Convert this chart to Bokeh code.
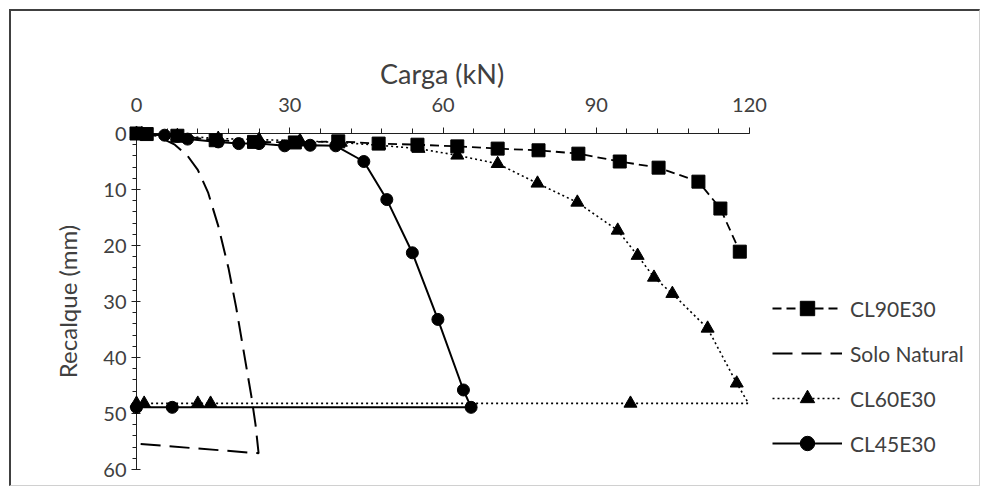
from bokeh.plotting import figure
from bokeh.models import Range1d, FixedTicker, Legend, LegendItem
from bokeh.embed import file_html
from bokeh.resources import INLINE

# ---- data ----
x_ticks = [0, 30, 60, 90, 120]
y_ticks = [0, 10, 20, 30, 40, 50, 60]

cl90_carga = [0, 2, 8, 15.5, 23, 31, 39.5, 47.4, 55, 62.8, 70.7, 78.7, 86.5, 94.6, 102.2, 110, 114.3, 118.1]
cl90_recalque = [0, 0.1, 0.4, 1.2, 1.5, 1.6, 1.4, 1.8, 2.0, 2.3, 2.7, 3.0, 3.6, 5.0, 6.1, 8.6, 13.4, 21.1]

solo_carga = [0, 4, 7.5, 10, 12, 14, 16, 18, 19.5, 21, 22.5, 23.3, 23.9, 0]
solo_recalque = [0, 0.4, 2.0, 4.0, 6.5, 10.5, 16.5, 24, 31, 39, 47, 52, 57.1, 55.4]

cl60_carga = [0, 1, 8, 16, 24, 32, 40, 47.5, 55.2, 62.8, 70.7, 78.5, 86.3, 94.2, 98.1, 101.3, 104.9,
              111.8, 117.5, 119.8, 96.7, 14.5, 12, 1.5, 0]
cl60_recalque = [0, 0.1, 0.4, 0.9, 1.1, 1.3, 1.6, 2.1, 2.7, 3.9, 5.4, 8.9, 12.3, 17.3, 21.8, 25.7, 28.6,
                 34.8, 44.6, 48.2, 48.2, 48.2, 48.2, 48.2, 48.2]
cl60_no_marker = [19]

cl45_carga = [0, 5.5, 8, 10, 16, 20, 24, 29, 34, 39, 44.5, 49, 54, 59, 64, 65.5, 7, 0]
cl45_recalque = [0, 0.3, 0.5, 1.0, 1.5, 1.8, 1.8, 2.2, 2.1, 2.2, 5.0, 11.8, 21.3, 33.2, 45.8, 48.9, 48.9, 48.9]

x_title = "Carga (kN)"
y_title = "Recalque (mm)"

FONT = "Lato"
TXT = "#404040"

# layout: the x axis (0..120) takes AXIS_PX pixels of a wider frame that also hosts the legend
AXIS_PX = 613
FRAME_W = 839
FRAME_H = 336
X_MAX = 120
x_end = X_MAX * FRAME_W / AXIS_PX

p = figure(frame_width=FRAME_W, frame_height=FRAME_H, output_backend="svg", toolbar_location=None,
           x_range=Range1d(0, x_end), y_range=Range1d(60, 0),
           x_axis_location="above", min_border_left=125, min_border_right=4,
           min_border_top=122, min_border_bottom=16)
p.margin = (9, 0, 0, 9)
p.styles = {"border-left": "2px solid #404040", "border-top": "2px solid #404040",
            "border-right": "1px solid #d0d0d0", "border-bottom": "1px solid #d0d0d0"}
p.outline_line_color = None
p.xgrid.visible = False
p.ygrid.visible = False
p.background_fill_color = "white"
p.border_fill_color = "white"

# x-axis title centred over the 0..120 part of the frame
p.title.text = x_title
p.title.text_font = FONT
p.title.text_font_style = "normal"
p.title.text_font_size = "27px"
p.title.text_color = TXT
p.title.align = "left"
p.title.offset = AXIS_PX / 2 - 63
p.title.standoff = 9

xa = p.xaxis[0]
xa.bounds = (0, X_MAX)
xa.ticker = FixedTicker(ticks=x_ticks, minor_ticks=list(range(0, 121, 6)))
xa.major_label_text_font = FONT
xa.major_label_text_font_size = "20px"
xa.major_label_text_color = TXT
xa.major_label_standoff = 16
xa.major_tick_out = 6
xa.major_tick_in = 0
xa.minor_tick_out = 5
xa.minor_tick_in = 0
xa.axis_line_color = "#202020"
xa.major_tick_line_color = "#202020"
xa.minor_tick_line_color = "#202020"

ya = p.yaxis[0]
ya.ticker = FixedTicker(ticks=y_ticks, minor_ticks=list(range(0, 61, 2)))
ya.axis_label = y_title
ya.axis_label_text_font = FONT
ya.axis_label_text_font_style = "normal"
ya.axis_label_text_font_size = "24px"
ya.axis_label_text_color = TXT
ya.axis_label_standoff = 18
ya.major_label_text_font = FONT
ya.major_label_text_font_size = "20px"
ya.major_label_text_color = TXT
ya.major_label_standoff = 5
ya.major_tick_out = 5
ya.major_tick_in = 4
ya.minor_tick_out = 4
ya.minor_tick_in = 0
ya.axis_line_color = "#202020"
ya.major_tick_line_color = "#202020"
ya.minor_tick_line_color = "#202020"

C = "black"

# CL90E30
l90 = p.line(cl90_carga, cl90_recalque, line_color=C, line_width=1.8, line_dash="9 5", level="overlay")
m90 = p.scatter(cl90_carga, cl90_recalque, marker="square", size=13, color=C, level="overlay")

# Solo Natural
lsn = p.line(solo_carga, solo_recalque, line_color=C, line_width=2, line_dash="20 9", level="overlay")

# CL60E30
l60 = p.line(cl60_carga, cl60_recalque, line_color=C, line_width=1.6, line_dash="2 3", level="overlay")
c60x = [v for i, v in enumerate(cl60_carga) if i not in cl60_no_marker]
c60y = [v for i, v in enumerate(cl60_recalque) if i not in cl60_no_marker]
m60 = p.scatter(c60x, c60y, marker="triangle", size=13, color=C, level="overlay")

# CL45E30
l45 = p.line(cl45_carga, cl45_recalque, line_color=C, line_width=2, level="overlay")
m45 = p.scatter(cl45_carga, cl45_recalque, marker="circle", size=12, color=C, level="overlay")

legend = Legend(items=[
    LegendItem(label="CL90E30", renderers=[l90, m90]),
    LegendItem(label="Solo Natural", renderers=[lsn]),
    LegendItem(label="CL60E30", renderers=[l60, m60]),
    LegendItem(label="CL45E30", renderers=[l45, m45]),
], location=(636, 8))
legend.margin = 0
legend.padding = 0
legend.border_line_color = None
legend.background_fill_alpha = 0
legend.glyph_width = 70
legend.glyph_height = 36
legend.label_height = 36
legend.spacing = 9
legend.label_standoff = 8
legend.label_text_font = FONT
legend.label_text_font_size = "21px"
legend.label_text_color = TXT
p.add_layout(legend, "center")

open("out.html", "w").write(file_html(p, INLINE))
